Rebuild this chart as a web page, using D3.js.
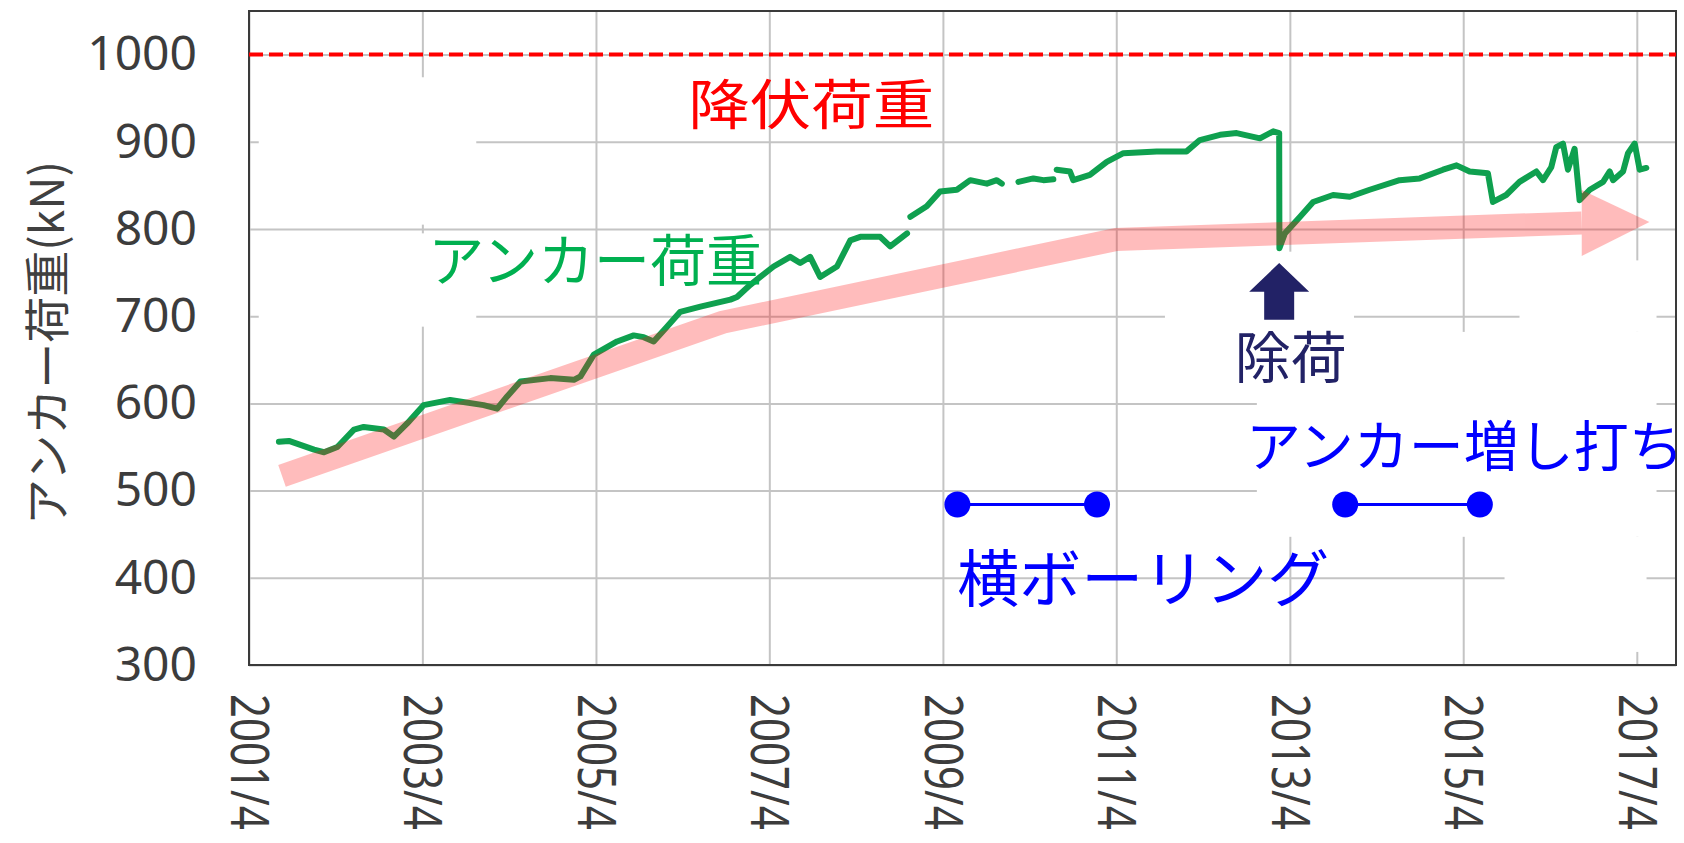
<!DOCTYPE html>
<html>
<head>
<meta charset="utf-8">
<script src="https://cdn.jsdelivr.net/npm/d3@7"></script>
<style>
body { margin: 0; background: #fff; }
svg { display: block; }
</style>
</head>
<body>
<svg width="1684" height="843"></svg>
<script>
// anchor load readings (kN); null = missing data
var loadDates = [
  "2001-08-05","2001-09-16","2001-12-31","2002-02-11","2002-04-08","2002-06-17","2002-07-28","2002-10-21",
  "2002-12-02","2003-01-27","2003-04-06","2003-07-27","2003-12-15","2004-02-10","2004-03-23","2004-05-18",
  "2004-09-21","2004-12-29","2005-01-26","2005-03-23","2005-06-29","2005-09-07","2005-10-19","2005-11-30",
  "2006-01-25","2006-03-22","2006-06-15","2006-10-19","2006-11-16","2007-01-11","2007-02-22","2007-04-19",
  "2007-06-28","2007-08-09","2007-09-20","2007-11-01","2008-01-11","2008-03-07","2008-04-18","2008-07-11",
  "2008-08-22","2008-11-01","2008-11-08","2008-11-15","2009-01-23","2009-03-20","2009-05-30","2009-07-25",
  "2009-10-03","2009-11-14","2009-12-05","2010-01-10","2010-02-13","2010-04-17","2010-05-29","2010-07-10",
  "2010-07-17","2010-07-24","2010-09-18","2010-10-02","2010-12-11","2011-02-20","2011-05-01","2011-09-18",
  "2012-01-22","2012-03-18","2012-06-11","2012-08-20","2012-11-26","2013-01-21","2013-02-15","2013-02-16",
  "2013-03-11","2013-05-14","2013-07-08","2013-09-30","2013-12-09","2014-03-03","2014-07-07","2014-09-30",
  "2015-01-06","2015-03-04","2015-04-28","2015-07-14","2015-08-04","2015-09-29","2015-11-24","2016-02-03",
  "2016-03-02","2016-04-06","2016-04-27","2016-05-25","2016-06-15","2016-07-13","2016-08-03","2016-09-15",
  "2016-11-10","2016-12-08","2016-12-22","2017-02-02","2017-02-23","2017-03-23","2017-04-13","2017-05-11"
];
var loadValues = [
  556, 557, 547, 544, 550, 570, 573, 570,
  562, 577, 598, 604, 598, 594, 608, 625,
  629, 627, 631, 656, 671, 678, 676, 671,
  688, 705, 711, 719, 722, 736, 745, 757,
  768, 761, 768, 745, 757, 787, 791, 791,
  780, 795, null, 814, 826, 843, 845, 856,
  852, 856, 852, null, 854, 858, 856, 857,
  null, 868, 866, 856, 862, 877, 887, 889,
  889, 902, 908, 910, 904, 912, 910, 778,
  795, 814, 831, 839, 837, 845, 856, 858,
  868, 873, 866, 864, 831, 839, 854, 866,
  856, 871, 894, 898, 868, 892, 833, 845,
  854, 866, 856, 866, 887, 898, 868, 870
];

// hand-drawn trend arrow
var trendDates = ["2001-08-18", "2006-09-15", "2011-04-01", "2016-08-12"];
var trendValues = [517, 693, 788, 807];
var trendTip = ["2017-05-24", 808];

var yieldLoad = 1000;
var boringPeriod = ["2009-06-01", "2011-01-10"];
var extraAnchorPeriod = ["2013-11-20", "2015-06-10"];
var periodLevel = 484;
var unloadDate = "2013-02-15";

var xTickDates = ["2001-04-01","2003-04-01","2005-04-01","2007-04-01","2009-04-01","2011-04-01","2013-04-01","2015-04-01","2017-04-01"];
var xTickLabels = ["2001/4","2003/4","2005/4","2007/4","2009/4","2011/4","2013/4","2015/4","2017/4"];
var yTicks = [300, 400, 500, 600, 700, 800, 900, 1000];

var parse = d3.timeParse("%Y-%m-%d");
var jp = "'Noto Sans CJK JP', 'Noto Sans', sans-serif";
var num = "'Noto Sans', 'Open Sans', sans-serif";

var plotL = 249, plotR = 1676, plotT = 11, plotB = 665;
var svg = d3.select("svg");

var x = d3.scaleTime()
  .domain([parse("2001-04-01"), parse("2017-09-13")])
  .range([plotL, plotR]);
var y = d3.scaleLinear()
  .domain([300, 1050])
  .range([plotB, plotT]);

// grid + tick labels
var yAxis = svg.append("g")
  .attr("transform", "translate(" + plotL + ",0)")
  .call(d3.axisLeft(y).tickValues(yTicks).tickFormat(d3.format("d"))
    .tickSize(-(plotR - plotL)).tickPadding(52));
var xAxis = svg.append("g")
  .attr("transform", "translate(0," + plotB + ")")
  .call(d3.axisBottom(x).tickValues(xTickDates.map(parse))
    .tickSize(-(plotB - plotT)).tickFormat((d, i) => xTickLabels[i]));

[yAxis, xAxis].forEach(function(g) {
  g.select(".domain").remove();
  g.selectAll(".tick line").attr("stroke", "#c4c4c4").attr("stroke-width", 2);
});
yAxis.selectAll("text")
  .attr("fill", "#3c3c3c")
  .style("font-family", num)
  .style("font-size", "48px");
// date labels: rotated, glyphs a bit taller than wide
xAxis.selectAll("text")
  .attr("fill", "#3c3c3c")
  .attr("y", 0).attr("x", 29).attr("dy", "0.35em")
  .attr("transform", "rotate(90) scale(1,1.27)")
  .style("text-anchor", "start")
  .style("font-family", num)
  .style("font-size", "42px");

// white boxes of the pasted labels, hiding the grid
var masks = [
  ["2001-05-12", "2003-11-14", 974, 805],
  ["2001-05-12", "2003-11-14", 795, 688],
  ["2011-10-23", "2013-12-27", 774, 615],
  ["2012-11-13", "2017-06-23", 682, 447],
  ["2015-11-24", "2017-06-23", 764, 682],
  ["2015-09-22", "2017-05-12", 447, 315]
];
svg.append("g").selectAll("rect")
  .data(masks)
  .enter()
  .append("rect")
  .attr("x", d => x(parse(d[0])))
  .attr("y", d => y(d[2]))
  .attr("width", d => x(parse(d[1])) - x(parse(d[0])))
  .attr("height", d => y(d[3]) - y(d[2]))
  .attr("fill", "#fff");

// frame
svg.append("rect")
  .attr("x", plotL).attr("y", plotT)
  .attr("width", plotR - plotL).attr("height", plotB - plotT)
  .attr("fill", "none").attr("stroke", "#3a3a3a").attr("stroke-width", 2);

// yield load
svg.append("line")
  .attr("x1", plotL).attr("x2", plotR)
  .attr("y1", y(yieldLoad)).attr("y2", y(yieldLoad))
  .attr("stroke", "#ff0000").attr("stroke-width", 4)
  .attr("stroke-dasharray", "14,6");

// anchor load
var loadData = loadDates.map((d, i) => [parse(d), loadValues[i]]);
var line = d3.line()
  .defined(d => d[1] != null)
  .x(d => x(d[0]))
  .y(d => y(d[1]));
svg.append("path")
  .datum(loadData)
  .attr("d", line)
  .attr("fill", "none")
  .attr("stroke", "#0fa04f")
  .attr("stroke-width", 6)
  .attr("stroke-linejoin", "round")
  .attr("stroke-linecap", "round");

// trend arrow (translucent, over the data)
var trendData = trendDates.map((d, i) => [parse(d), trendValues[i]]);
var arrow = svg.append("g").attr("opacity", 0.28);
arrow.append("path")
  .datum(trendData)
  .attr("d", d3.line().x(d => x(d[0])).y(d => y(d[1])))
  .attr("fill", "none")
  .attr("stroke", "#ff1010")
  .attr("stroke-width", 23)
  .attr("stroke-linecap", "butt");
var endPt = trendData[trendData.length - 1];
var bx = x(endPt[0]), by = y(endPt[1]);
arrow.append("path")
  .attr("d", "M" + bx + "," + (by - 33) + "L" + x(parse(trendTip[0])) + "," + y(trendTip[1]) +
    "L" + bx + "," + (by + 33) + "Z")
  .attr("fill", "#ff1010");

// unloading arrow
var ux = x(parse(unloadDate));
var uTop = y(761), uNeck = y(728), uBot = y(696);
svg.append("path")
  .attr("d", "M" + ux + "," + uTop + "L" + (ux + 30) + "," + uNeck + "L" + (ux + 15) + "," + uNeck +
    "L" + (ux + 15) + "," + uBot + "L" + (ux - 15) + "," + uBot + "L" + (ux - 15) + "," + uNeck +
    "L" + (ux - 30) + "," + uNeck + "Z")
  .attr("fill", "#222266");

// construction periods
var periods = [boringPeriod, extraAnchorPeriod];
var pg = svg.append("g").selectAll("g")
  .data(periods)
  .enter()
  .append("g");
pg.append("line")
  .attr("x1", d => x(parse(d[0])))
  .attr("x2", d => x(parse(d[1])))
  .attr("y1", y(periodLevel)).attr("y2", y(periodLevel))
  .attr("stroke", "#0000ff").attr("stroke-width", 3);
pg.selectAll("circle")
  .data(d => d)
  .enter()
  .append("circle")
  .attr("cx", d => x(parse(d)))
  .attr("cy", y(periodLevel))
  .attr("r", 13)
  .attr("fill", "#0000ff");

// labels
function label(text, date, value, size, color, anchor) {
  return svg.append("text")
    .attr("x", x(parse(date)))
    .attr("y", y(value))
    .attr("fill", color)
    .style("font-family", jp)
    .style("font-size", size + "px")
    .style("text-anchor", anchor || "start")
    .text(text);
}
label("降伏荷重", "2006-04-25", 919, 54, "#ff0000")
  .attr("textLength", 246).attr("lengthAdjust", "spacingAndGlyphs");
label("アンカー荷重", "2003-04-26", 740, 56, "#00b050");
label("除荷", "2013-04-05", 629, 56, "#222266", "middle");
label("アンカー増し打ち", "2012-09-28", 528, 55, "#0000ff");
label("横ボーリング", "2009-05-31", 372, 62, "#0000ff");

// y title
svg.append("text")
  .attr("transform", "translate(48,343) rotate(-90)")
  .attr("dy", "0.35em")
  .attr("fill", "#404040")
  .style("font-family", jp)
  .style("font-size", "46px")
  .style("text-anchor", "middle")
  .text("アンカー荷重(kN)");
</script>
</body>
</html>
